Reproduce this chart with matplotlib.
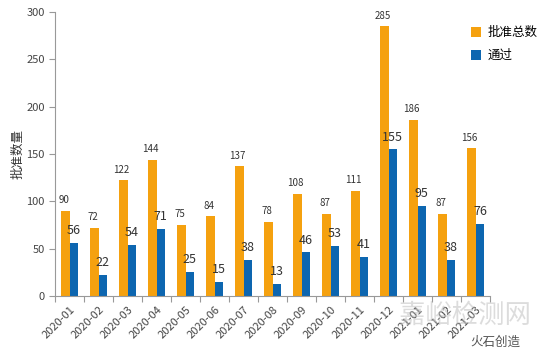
import matplotlib.pyplot as plt
import numpy as np

plt.rcParams['font.family'] = ['Noto Sans CJK SC', 'DejaVu Sans']

months = ['2020-01', '2020-02', '2020-03', '2020-04', '2020-05', '2020-06', '2020-07',
          '2020-08', '2020-09', '2020-10', '2020-11', '2020-12', '2021-01', '2021-02', '2021-03']
total = [90, 72, 122, 144, 75, 84, 137, 78, 108, 87, 111, 285, 186, 87, 156]
passed = [56, 22, 54, 71, 25, 15, 38, 13, 46, 53, 41, 155, 95, 38, 76]

orange = '#F5A10F'
blue = '#0D66B0'

fig = plt.figure(figsize=(5.5, 3.53), dpi=100)
ax = fig.add_axes([0.1, 0.162, 0.791, 0.804])

x = np.arange(len(months))
w = 0.3
ax.bar(x - w / 2, total, w, color=orange, label='批准总数')
ax.bar(x + w / 2, passed, w, color=blue, label='通过')

# 數值標籤
for i in range(len(months)):
    ax.text(x[i] - w / 2 - 0.05, total[i] + 6, str(total[i]), ha='center', va='bottom',
            fontsize=7, color='#333333')
    ax.text(x[i] + w / 2, passed[i] + 6, str(passed[i]), ha='center', va='bottom',
            fontsize=9, color='#333333')

ax.set_xlim(-0.5, len(months) - 0.5)
ax.set_ylim(0, 300)
ax.set_yticks([0, 50, 100, 150, 200, 250, 300])
ax.set_xticks(np.arange(-0.5, len(months), 1))
ax.set_xticklabels([])
ax.set_xticks(x, minor=True)
ax.set_xticklabels(months, minor=True, rotation=45, ha='right', va='top',
                   fontsize=8, color='#444444', rotation_mode='anchor')
ax.tick_params(axis='x', which='minor', length=0, pad=6)
ax.tick_params(axis='x', which='major', length=4, color='#999999')
ax.tick_params(axis='y', length=4, color='#999999', labelsize=8, labelcolor='#444444')
for s in ['top', 'right']:
    ax.spines[s].set_visible(False)
for s in ['left', 'bottom']:
    ax.spines[s].set_color('#999999')

ax.set_ylabel('批准数量', fontsize=9, color='#333333')
ax.yaxis.set_label_coords(-0.07, 0.5)

ax.legend(loc='upper left', bbox_to_anchor=(0.93, 0.99), frameon=False, fontsize=9,
          handlelength=0.8, handleheight=0.8, labelspacing=0.8, handletextpad=0.5)

# 水印
fig.text(0.725, 0.085, '嘉峪检测网', fontsize=19, color='#bbbbbb', alpha=0.5)
fig.text(0.855, 0.02, '火石创造', fontsize=9, color='#555555')

fig.savefig('out.png', dpi=100)
